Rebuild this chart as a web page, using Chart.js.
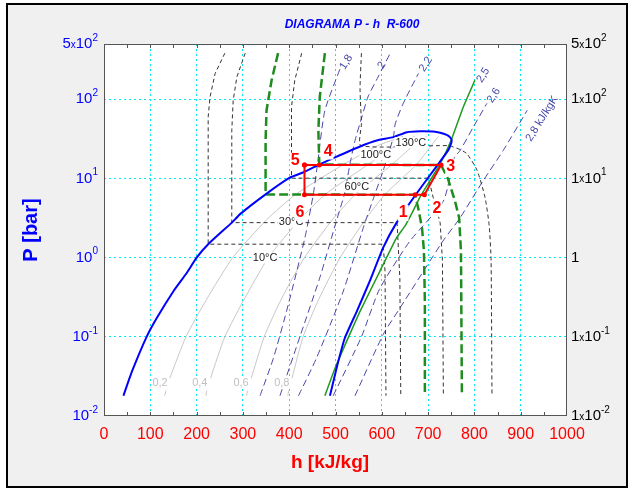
<!DOCTYPE html>
<html>
<head>
<meta charset="utf-8">
<title>Diagrama P-h R-600</title>
<script src="https://cdn.jsdelivr.net/npm/chart.js@4.4.1/dist/chart.umd.min.js"></script>
<style>
  html, body { margin: 0; padding: 0; background: #ffffff; }
  canvas { display: block; }
</style>
</head>
<body>
<canvas id="chart" width="630" height="489"></canvas>
<script>
// R-600 (n-butane) pressure-enthalpy diagram, h in kJ/kg, P in bar

// axis ticks
const hTickValues = [0, 100, 200, 300, 400, 500, 600, 700, 800, 900, 1000];
const pTickValues = [0.01, 0.1, 1, 10, 100, 500];
const pLeftMant = ['', '', '', '', '', '5'];
const pLeftExp = ['-2', '-1', '0', '1', '2', '2'];
const pRightMant = ['1', '1', '1', '1', '1', '5'];
const pRightExp = ['-2', '-1', null, '1', '2', '2'];

// saturation dome
const domeH = [42, 60, 92, 114, 150, 179, 200, 225, 276, 294, 349, 402, 430, 465, 499, 553, 589, 625, 654, 683, 711, 726, 740, 747, 751, 748, 743, 721, 672, 632, 603, 574, 546, 520, 504, 488];
const domeP = [0.018, 0.036, 0.1, 0.173, 0.377, 0.645, 1.0, 1.48, 2.77, 3.55, 6.3, 10.3, 11.9, 15, 18.5, 25.4, 30.2, 33.3, 38.5, 39.6, 39.2, 37.8, 35.5, 33.3, 30.2, 26, 22.5, 15, 6.1, 2.77, 1.34, 0.505, 0.21, 0.096, 0.044, 0.018];

// refrigeration cycle 5-6-1-2-3-4-5
const cycleH = [433, 433, 672, 692, 728, 465, 433];
const cycleP = [14.8, 6.22, 6.22, 6.22, 14.8, 14.8, 14.8];

// isotherms (black dashed)
const t10H = [261, 240, 229, 225, 225, 603, 607, 609];
const t10P = [383, 212, 107, 60, 1.48, 1.48, 0.67, 0.018];
const t30H = [305, 287, 279, 276, 276, 633, 639, 641];
const t30P = [383, 192, 97, 40.5, 2.77, 2.77, 0.55, 0.018];
const t80H = [427, 412, 405, 405, 701, 711, 726, 731, 733];
const t80P = [383, 174, 80, 10.1, 10.1, 5.76, 2.77, 0.91, 0.018];
const t130H = [556, 553, 556, 555, 743, 767, 784, 806, 823, 832, 836, 838];
const t130P = [383, 137, 49, 26, 26, 23.5, 20.5, 12.6, 5.76, 2.52, 0.91, 0.018];

// isotherms (green dashed)
const t60H = [376, 362, 351, 349, 349, 672, 680, 687, 691, 693, 693];
const t60P = [383, 174, 72.4, 30, 6.3, 6.22, 3.9, 2.32, 1.22, 0.28, 0.018];
const t100H = [477, 466, 463, 465, 728, 743, 758, 767, 771, 773];
const t100P = [383, 107, 40.5, 15, 14.8, 9.9, 5.2, 3.2, 1.2, 0.018];

// isentropes (kJ/kgK)
const s18H = [337, 366, 398, 434, 452, 461, 477, 510];
const s18P = [0.018, 0.054, 0.255, 1.79, 6.3, 15, 72, 245];
const s20H = [380, 423, 466, 502, 519, 531, 542, 557, 570, 592, 618];
const s20P = [0.018, 0.1, 0.556, 2.92, 6.3, 15, 30, 60, 107, 192, 380];
const s22H = [420, 459, 517, 560, 585, 603, 625, 629, 646, 679];
const s22P = [0.018, 0.054, 0.38, 2.39, 6.3, 12.6, 33.3, 49, 88, 212];
const s25H = [477, 499, 524, 553, 596, 632, 650, 664, 683, 726, 751, 776, 801];
const s25P = [0.018, 0.04, 0.0875, 0.21, 0.676, 1.79, 2.5, 3.54, 5.9, 15.3, 31.7, 80, 174];
const s26H = [495, 556, 595, 660, 733, 757, 769, 797, 827];
const s26P = [0.018, 0.1, 0.4, 1.6, 5.2, 18.5, 22.5, 44, 89];
const s28H = [542, 603, 639, 732, 769, 819, 862, 914];
const s28P = [0.018, 0.107, 0.23, 1.62, 3.18, 9.4, 22.5, 72.6];

// vapour quality lines (short stub, gap, then the line)
const qualP = [0.018, 0.021, null, 0.03, 0.1, 0.3, 1, 3, 6.3, 15, 26, 34];
const q02H = [131, 134, null, 142, 177, 222, 278, 351, 414, 517, 591, 646];
const q04H = [220, 222, null, 230, 261, 303, 355, 422, 478, 570, 630, 671];
const q06H = [308, 310, null, 318, 346, 383, 433, 493, 543, 622, 668, 697];
const q08H = [397, 399, null, 406, 430, 464, 510, 564, 607, 675, 707, 722];

// text annotations placed at (h, P)
const pointLabels = ['1', '2', '3', '4', '5', '6'];
const pointLabelH = [646, 719, 749, 484, 413, 423];
const pointLabelP = [3.68, 4.14, 14.1, 21.9, 16.8, 3.68];
const tempLabels = ['130°C', '100°C', '60°C', '30°C', '10°C'];
const tempLabelH = [663, 587, 546, 404, 348];
const tempLabelP = [28.4, 20, 7.87, 2.83, 0.99];
const qualityLabels = ['0,2', '0,4', '0,6', '0,8'];
const qualityLabelH = [121, 207, 296, 384];
const qualityLabelP = [0.0264, 0.0264, 0.0264, 0.0264];
const entropyLabels = ['1,8', '2', '2,2', '2,5', '2,6', '2,8 kJ/kgK'];
const entropyLabelH = [523, 600, 695, 819, 842, 946];
const entropyLabelP = [295, 270, 278, 202, 112, 57];

const FONT = "'Liberation Sans', Arial, sans-serif";
const BLUE = '#0000ff';
const RED = '#ff0000';
const GREEN = '#1f8c1f';
const GREEN_SOLID = '#1e9a1e';
const ISENT = '#4848aa';
const ISO = '#333333';
const QUAL = '#c8c8c8';
const GRID = '#00e8f0';

function pts(hs, ps) {
  return hs.map((h, i) => (h === null ? { x: null, y: null } : { x: h, y: ps[i] }));
}

function line(data, color, width, dash, tension) {
  return {
    data: data,
    showLine: true,
    borderColor: color,
    backgroundColor: color,
    borderWidth: width,
    borderDash: dash || [],
    pointRadius: 0,
    fill: false,
    tension: tension || 0,
  };
}

// first dataset is drawn on top
const datasets = [
  Object.assign(line(pts(cycleH, cycleP), RED, 2), {
    pointRadius: 2.5, pointBackgroundColor: RED, pointBorderWidth: 0,
  }),
  line(pts(domeH, domeP), BLUE, 2, null, 0.15),
  line(pts(s25H, s25P), GREEN_SOLID, 1.5, null, 0.15),
  line(pts(t60H, t60P), GREEN, 2.5, [9, 4]),
  line(pts(t100H, t100P), GREEN, 2.5, [9, 4]),
  line(pts(t10H, t10P), ISO, 1, [4, 3]),
  line(pts(t30H, t30P), ISO, 1, [4, 3]),
  line(pts(t80H, t80P), ISO, 1, [4, 3]),
  line(pts(t130H, t130P), ISO, 1, [4, 3], 0.2),
  line(pts(s18H, s18P), ISENT, 1, [7, 4], 0.2),
  line(pts(s20H, s20P), ISENT, 1, [7, 4], 0.2),
  line(pts(s22H, s22P), ISENT, 1, [7, 4], 0.2),
  line(pts(s26H, s26P), ISENT, 1, [7, 4], 0.2),
  line(pts(s28H, s28P), ISENT, 1, [7, 4], 0.2),
  line(pts(q02H, qualP), QUAL, 1, null, 0.2),
  line(pts(q04H, qualP), QUAL, 1, null, 0.2),
  line(pts(q06H, qualP), QUAL, 1, null, 0.2),
  line(pts(q08H, qualP), QUAL, 1, null, 0.2),
];

function gridColor(v, lo, hi) {
  return v >= lo && v <= hi ? GRID : 'rgba(0,0,0,0)';
}

function drawLabel(ctx, txt, x, y, size, weight, color, bg) {
  ctx.font = weight + ' ' + size + 'px ' + FONT;
  ctx.textAlign = 'center';
  ctx.textBaseline = 'middle';
  if (bg) {
    const w = ctx.measureText(txt).width;
    ctx.fillStyle = '#ffffff';
    ctx.fillRect(x - w / 2 - 1, y - size / 2, w + 2, size);
  }
  ctx.fillStyle = color;
  ctx.fillText(txt, x, y);
}

// "5x10^2" style label, align 'right' or 'left'
function drawPower(ctx, x, y, mant, exp, align, color) {
  const parts = [];
  if (exp === null) {
    parts.push({ t: mant, f: '15px ' + FONT, dy: 0 });
  } else {
    if (mant) {
      parts.push({ t: mant, f: '15px ' + FONT, dy: 0 });
      parts.push({ t: 'x', f: '10px ' + FONT, dy: 1 });
    }
    parts.push({ t: '10', f: '15px ' + FONT, dy: 0 });
    parts.push({ t: exp, f: '10px ' + FONT, dy: -6 });
  }
  let total = 0;
  parts.forEach((p) => { ctx.font = p.f; p.w = ctx.measureText(p.t).width; total += p.w; });
  let cx = align === 'right' ? x - total : x;
  ctx.fillStyle = color;
  ctx.textAlign = 'left';
  ctx.textBaseline = 'middle';
  parts.forEach((p) => {
    ctx.font = p.f;
    ctx.fillText(p.t, cx, y + p.dy);
    cx += p.w;
  });
}

const diagramPlugin = {
  id: 'diagram',
  beforeDraw(chart) {
    const { ctx, chartArea: a } = chart;
    ctx.save();
    ctx.fillStyle = '#ffffff';
    ctx.fillRect(0, 0, chart.width, chart.height);
    ctx.fillStyle = '#f0f0f0';
    ctx.fillRect(7, 4, 620, 483);
    ctx.strokeStyle = '#000000';
    ctx.lineWidth = 2;
    ctx.strokeRect(7, 4, 620, 483);
    ctx.fillStyle = '#ffffff';
    ctx.fillRect(a.left, a.top, a.right - a.left, a.bottom - a.top);
    ctx.restore();
  },
  afterDatasetsDraw(chart) {
    const { ctx, chartArea: a, scales } = chart;
    const xs = scales.x, ys = scales.y;
    ctx.save();

    // frame and small tick marks
    ctx.strokeStyle = '#555555';
    ctx.lineWidth = 1;
    ctx.strokeRect(a.left + 0.5, a.top + 0.5, a.right - a.left - 1, a.bottom - a.top - 1);
    for (let v = 50; v < 1000; v += 50) {
      const px = Math.round(xs.getPixelForValue(v)) + 0.5;
      ctx.beginPath();
      ctx.moveTo(px, a.bottom);
      ctx.lineTo(px, a.bottom - 4);
      ctx.moveTo(px, a.top);
      ctx.lineTo(px, a.top + 4);
      ctx.stroke();
    }

    // quality labels
    qualityLabels.forEach((t, i) => {
      drawLabel(ctx, t, xs.getPixelForValue(qualityLabelH[i]), ys.getPixelForValue(qualityLabelP[i]), 11, 'normal', '#c0c0c0', true);
    });

    // temperature labels
    tempLabels.forEach((t, i) => {
      drawLabel(ctx, t, xs.getPixelForValue(tempLabelH[i]), ys.getPixelForValue(tempLabelP[i]), 11, 'normal', '#222222', true);
    });

    // isentrope labels, rotated
    entropyLabels.forEach((t, i) => {
      ctx.save();
      ctx.translate(xs.getPixelForValue(entropyLabelH[i]), ys.getPixelForValue(entropyLabelP[i]));
      ctx.rotate(-58 * Math.PI / 180);
      drawLabel(ctx, t, 0, 0, 11, 'normal', ISENT, false);
      ctx.restore();
    });

    // cycle point numbers
    pointLabels.forEach((t, i) => {
      drawLabel(ctx, t, xs.getPixelForValue(pointLabelH[i]), ys.getPixelForValue(pointLabelP[i]), 16, 'bold', RED, true);
    });
    ctx.restore();
  },
  afterDraw(chart) {
    const { ctx, chartArea: a, scales } = chart;
    const ys = scales.y;
    ctx.save();

    // pressure tick labels on both sides
    pTickValues.forEach((v, i) => {
      const py = ys.getPixelForValue(v);
      drawPower(ctx, a.left - 6, py, pLeftMant[i], pLeftExp[i], 'right', BLUE);
      drawPower(ctx, a.right + 4, py, pRightMant[i], pRightExp[i], 'left', '#000000');
    });

    drawLabel(ctx, 'DIAGRAMA P - h  R-600', 352, 25, 12, 'italic bold', BLUE, false);
    drawLabel(ctx, 'h [kJ/kg]', 330, 463, 19, 'bold', RED, false);

    ctx.translate(31, (a.top + a.bottom) / 2);
    ctx.rotate(-Math.PI / 2);
    drawLabel(ctx, 'P [bar]', 0, 0, 20, 'bold', BLUE, false);
    ctx.restore();
  },
};

new Chart(document.getElementById('chart'), {
  type: 'scatter',
  data: { datasets: datasets },
  options: {
    responsive: false,
    animation: false,
    devicePixelRatio: 1,
    events: [],
    layout: { padding: { top: 44, right: 63, left: 0, bottom: 0 } },
    plugins: {
      legend: { display: false },
      tooltip: { enabled: false },
      title: { display: false },
    },
    scales: {
      x: {
        type: 'linear',
        min: 0,
        max: 1000,
        afterBuildTicks: (axis) => { axis.ticks = hTickValues.map((v) => ({ value: v })); },
        afterFit: (axis) => { axis.height = 73; },
        ticks: {
          color: RED,
          font: { family: FONT, size: 16 },
          padding: 9,
          maxRotation: 0,
          autoSkip: false,
          callback: (v) => String(v),
        },
        grid: { color: (c) => gridColor(c.tick ? c.tick.value : -1, 100, 900), drawTicks: false, lineWidth: 1 },
        border: { display: false, dash: [2, 3] },
      },
      y: {
        type: 'logarithmic',
        min: 0.01,
        max: 500,
        afterBuildTicks: (axis) => { axis.ticks = pTickValues.map((v) => ({ value: v })); },
        afterFit: (axis) => { axis.width = 104; },
        ticks: { display: false },
        grid: { color: (c) => gridColor(c.tick ? c.tick.value : -1, 0.1, 100), drawTicks: false, lineWidth: 1 },
        border: { display: false, dash: [2, 3] },
      },
    },
  },
  plugins: [diagramPlugin],
});
</script>
</body>
</html>
